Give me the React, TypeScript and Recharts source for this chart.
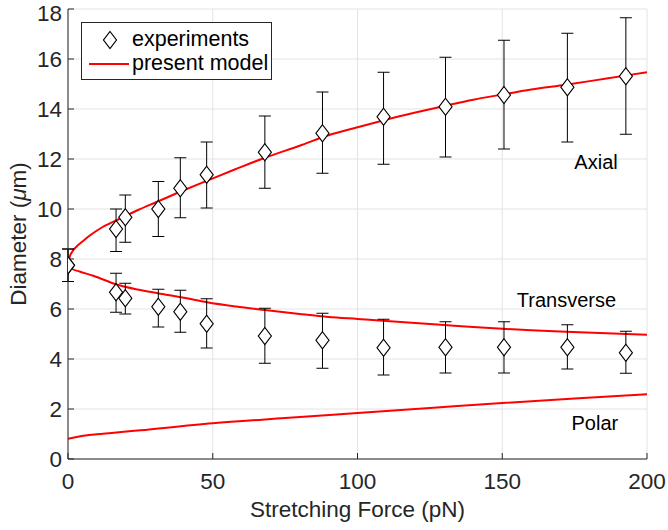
import React from "react";
import {
  ComposedChart,
  Line,
  Scatter,
  ErrorBar,
  XAxis,
  YAxis,
  CartesianGrid,
  Legend,
  ReferenceDot,
} from "recharts";

const FONT = '"Liberation Sans", Arial, Helvetica, sans-serif';
const AXIS_COLOR = "#262626";

// experiment forces (pN)
const forces = [0, 16.6, 19.8, 31.2, 38.8, 47.9, 68, 87.9, 109, 130.4, 150.6, 172.5, 192.7];

// axial diameter: mean, lower and upper whisker (um)
const axialMean = [7.75, 9.2, 9.67, 10.0, 10.83, 11.37, 12.27, 13.03, 13.69, 14.09, 14.56, 14.87, 15.31];
const axialLow = [7.1, 8.3, 8.67, 8.9, 9.65, 10.04, 10.83, 11.43, 11.79, 12.08, 12.4, 12.68, 12.99];
const axialHigh = [8.4, 10.0, 10.56, 11.1, 12.05, 12.68, 13.72, 14.68, 15.47, 16.07, 16.75, 17.03, 17.65];

// transverse diameter
const transMean = [7.75, 6.67, 6.43, 6.09, 5.89, 5.41, 4.92, 4.75, 4.45, 4.47, 4.47, 4.47, 4.25];
const transLow = [7.1, 5.87, 5.8, 5.28, 5.07, 4.44, 3.83, 3.63, 3.36, 3.44, 3.44, 3.6, 3.43];
const transHigh = [8.4, 7.43, 7.03, 6.79, 6.75, 6.41, 6.03, 5.83, 5.59, 5.49, 5.49, 5.37, 5.11];

// model curves
const axialModelX = [0, 0.5, 1.5, 3, 5, 8, 12, 17, 24, 31, 40, 48, 58, 68, 80, 90, 100, 110, 120, 130, 140, 150, 160, 172, 186, 200];
const axialModelY = [7.75, 8.05, 8.3, 8.5, 8.7, 8.98, 9.28, 9.56, 9.95, 10.3, 10.75, 11.13, 11.6, 12.05, 12.53, 12.95, 13.27, 13.58, 13.86, 14.12, 14.37, 14.58, 14.78, 14.97, 15.22, 15.47];

const transModelX = [0, 1.5, 4, 8.7, 16.8, 24, 31, 40, 48, 58, 68, 80, 90, 100, 110, 120, 130, 140, 150, 160, 172, 186, 200];
const transModelY = [7.75, 7.6, 7.5, 7.33, 6.98, 6.78, 6.63, 6.45, 6.27, 6.1, 5.96, 5.8, 5.68, 5.6, 5.52, 5.44, 5.36, 5.28, 5.21, 5.15, 5.09, 5.03, 4.97];

const polarModelX = [0, 3, 6, 10, 15, 25, 50, 75, 100, 125, 150, 175, 200];
const polarModelY = [0.81, 0.88, 0.94, 0.99, 1.04, 1.15, 1.43, 1.64, 1.84, 2.04, 2.24, 2.42, 2.59];

const xTicks = [0, 50, 100, 150, 200];
const yTicks = [0, 2, 4, 6, 8, 10, 12, 14, 16, 18];

const toPoints = (mean: number[], low: number[], high: number[]) =>
  forces.map((x, i) => ({
    x,
    y: mean[i],
    err: [mean[i] - low[i], high[i] - mean[i]],
  }));

const toCurve = (xs: number[], ys: number[]) => xs.map((x, i) => ({ x, y: ys[i] }));

const axialPoints = toPoints(axialMean, axialLow, axialHigh);
const transPoints = toPoints(transMean, transLow, transHigh);
const axialModel = toCurve(axialModelX, axialModelY);
const transModel = toCurve(transModelX, transModelY);
const polarModel = toCurve(polarModelX, polarModelY);

const Diamond = (props: any) => {
  const { cx, cy } = props;
  if (cx == null || cy == null) return null;
  return (
    <polygon
      points={`${cx},${cy - 8.5} ${cx + 6.5},${cy} ${cx},${cy + 8.5} ${cx - 6.5},${cy}`}
      fill="#fff"
      stroke="#000"
      strokeWidth={1.2}
    />
  );
};

const LegendBox = () => (
  <div
    style={{
      width: 189,
      height: 56,
      border: `1px solid ${AXIS_COLOR}`,
      background: "#fff",
      position: "relative",
      fontFamily: FONT,
      fontSize: 21.5,
      color: "#000",
      whiteSpace: "nowrap",
    }}
  >
    <svg width={50} height={56} style={{ position: "absolute", left: 0, top: 0 }}>
      <polygon points="28,8.5 34.5,17 28,25.5 21.5,17" fill="#fff" stroke="#000" strokeWidth={1.2} />
      <line x1={7} x2={47} y1={41} y2={41} stroke="#ff0000" strokeWidth={2} />
    </svg>
    <div style={{ position: "absolute", left: 50, top: 4, lineHeight: "24px" }}>experiments</div>
    <div style={{ position: "absolute", left: 50, top: 28, lineHeight: "24px" }}>present model</div>
  </div>
);

const YLabel = (props: any) => {
  const { viewBox } = props;
  const cx = 18;
  const cy = viewBox.y + viewBox.height / 2;
  return (
    <text
      x={cx}
      y={cy}
      transform={`rotate(-90, ${cx}, ${cy})`}
      textAnchor="middle"
      dominantBaseline="central"
      fontFamily={FONT}
      fontSize={22.5}
      fill={AXIS_COLOR}
    >
      Diameter (<tspan fontStyle="italic">μ</tspan>m)
    </text>
  );
};

const annotation = (value: string) => ({
  value,
  position: "center" as const,
  fontFamily: FONT,
  fontSize: 20,
  fill: "#000",
});

export default function App() {
  const tickStyle = { fontFamily: FONT, fontSize: 22.5, fill: AXIS_COLOR };
  return (
    <div style={{ position: "absolute", left: 0, top: 0, background: "#fff" }}>
      <ComposedChart
        width={668}
        height={530}
        margin={{ top: 9, right: 21, left: 0, bottom: 0 }}
      >
        <CartesianGrid stroke="#e3e3e3" strokeWidth={1} />
        <XAxis
          type="number"
          dataKey="x"
          domain={[0, 200]}
          ticks={xTicks}
          allowDataOverflow
          height={71}
          stroke={AXIS_COLOR}
          tickSize={-6}
          tickMargin={20}
          tick={tickStyle}
          label={{
            value: "Stretching Force (pN)",
            position: "insideBottom",
            offset: 13,
            fontFamily: FONT,
            fontSize: 22.5,
            fill: AXIS_COLOR,
          }}
        />
        <XAxis
          xAxisId="top"
          orientation="top"
          type="number"
          domain={[0, 200]}
          ticks={xTicks}
          height={0}
          stroke={AXIS_COLOR}
          tickSize={-6}
          tick={false}
        />
        <YAxis
          type="number"
          dataKey="y"
          domain={[0, 18]}
          ticks={yTicks}
          allowDataOverflow
          width={68}
          stroke={AXIS_COLOR}
          tickSize={-6}
          tickMargin={12}
          tick={tickStyle}
          label={<YLabel />}
        />
        <YAxis
          yAxisId="right"
          orientation="right"
          type="number"
          domain={[0, 18]}
          ticks={yTicks}
          width={0}
          stroke={AXIS_COLOR}
          tickSize={-6}
          tick={false}
        />
        <Legend
          layout="vertical"
          align="center"
          verticalAlign="middle"
          content={<LegendBox />}
          wrapperStyle={{ left: 81, top: 22, width: 191, height: 58 }}
        />
        <Line data={axialModel} dataKey="y" type="monotone" stroke="#ff0000" strokeWidth={2} dot={false} isAnimationActive={false} legendType="none" />
        <Line data={transModel} dataKey="y" type="monotone" stroke="#ff0000" strokeWidth={2} dot={false} isAnimationActive={false} legendType="none" />
        <Line data={polarModel} dataKey="y" type="monotone" stroke="#ff0000" strokeWidth={2} dot={false} isAnimationActive={false} legendType="none" />
        <Scatter data={axialPoints} dataKey="y" shape={<Diamond />} isAnimationActive={false} legendType="none">
          <ErrorBar dataKey="err" direction="y" width={6} stroke="#000" strokeWidth={1} />
        </Scatter>
        <Scatter data={transPoints} dataKey="y" shape={<Diamond />} isAnimationActive={false} legendType="none">
          <ErrorBar dataKey="err" direction="y" width={6} stroke="#000" strokeWidth={1} />
        </Scatter>
        <ReferenceDot x={182.4} y={11.88} r={0} fill="none" stroke="none" label={annotation("Axial")} />
        <ReferenceDot x={172.2} y={6.36} r={0} fill="none" stroke="none" label={annotation("Transverse")} />
        <ReferenceDot x={182} y={1.45} r={0} fill="none" stroke="none" label={annotation("Polar")} />
      </ComposedChart>
    </div>
  );
}
